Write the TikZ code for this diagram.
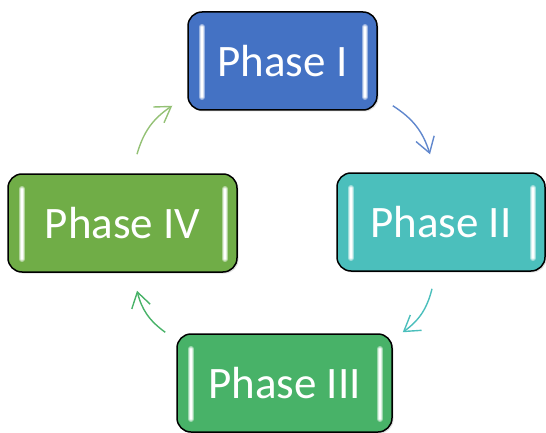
\documentclass[tikz,border=0pt]{standalone}
\usepackage{fontspec}
\setmainfont{Carlito}
\usetikzlibrary{arrows.meta, shadows, positioning}
\definecolor{phaseblue}{HTML}{4472C4}
\definecolor{phaseteal}{HTML}{4BBFBC}
\definecolor{phasegreen}{HTML}{48B268}
\definecolor{phaseolive}{HTML}{70AD47}

\tikzset{
  phase/.style={draw=black, line width=1.5pt, rounded corners=14pt, fill=#1,
    text=white, font=\fontsize{45}{54}\selectfont, inner sep=0pt,
    minimum height=98pt,
    drop shadow={opacity=0.25, shadow xshift=1.5pt, shadow yshift=-1.5pt},
    path picture={
      \foreach \w/\c in {6pt/#1!55!white, 3.5pt/#1!20!white, 1.6pt/white}{
        \draw[line width=\w, \c, line cap=round]
          ([xshift=14pt,yshift=-15pt]path picture bounding box.north west) --
          ([xshift=14pt,yshift=13pt]path picture bounding box.south west)
          ([xshift=-12pt,yshift=-15pt]path picture bounding box.north east) --
          ([xshift=-12pt,yshift=13pt]path picture bounding box.south east);
      }
    }},
  cycle arrow/.style={line width=1.4pt, draw=#1, bend left=20,
    -{Straight Barb[length=15pt,width=19pt]}}
}

\begin{document}
\begin{tikzpicture}[x=1pt, y=1pt]
  \useasboundingbox (0,0) rectangle (546,432);
  \node[phase=phaseblue, minimum width=189pt] (phaseI) at (282.5,371) {Phase I};
  \node[phase=phaseteal, minimum width=208pt] (phaseII) at (441,210) {Phase II};
  \node[phase=phasegreen, minimum width=215pt] (phaseIII) at (284.5,49) {Phase III};
  \node[phase=phaseolive, minimum width=229pt] (phaseIV) at (122.5,209) {Phase IV};
  % clockwise arrows
  \draw[cycle arrow=phaseblue!85!white] ([shift={(15,5)}]phaseI.south east) to ([shift={(-11,18)}]phaseII.north);
  \draw[cycle arrow=phaseteal] ([shift={(-9,-17)}]phaseII.south) to ([shift={(10,1)}]phaseIII.north east);
  \draw[cycle arrow=phasegreen] ([shift={(-11,1)}]phaseIII.north west) to ([shift={(14.5,-18)}]phaseIV.south);
  \draw[cycle arrow=phaseolive!75!white] ([shift={(14.5,19)}]phaseIV.north) to ([shift={(-15,5)}]phaseI.south west);
\end{tikzpicture}
\end{document}
